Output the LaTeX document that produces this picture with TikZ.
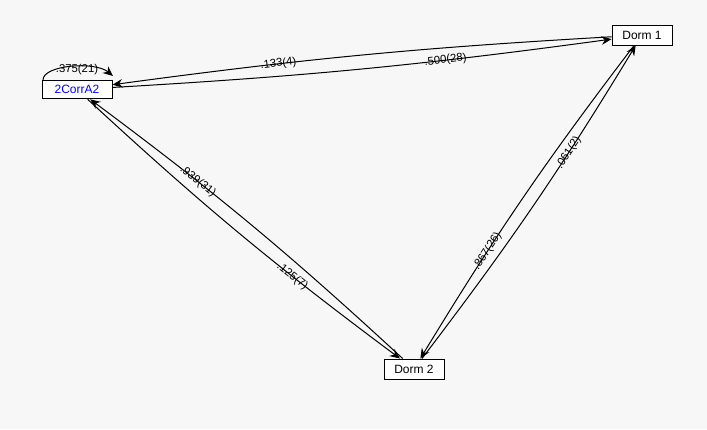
\documentclass[tikz,border=0pt]{standalone}
\usepackage{fontspec}
\setmainfont{Liberation Sans}
\usetikzlibrary{arrows.meta}
\definecolor{bgc}{RGB}{247,247,247}
\definecolor{nodeblue}{RGB}{0,0,255}
\tikzset{
  box/.style={draw=black, line width=0.75pt, fill=white, inner sep=0pt, font=\fontsize{9}{10}\selectfont},
  edge/.style={line width=0.75pt, -{Stealth[length=7.5pt, width=6.5pt, inset=2.5pt]}},
  lab/.style={font=\fontsize{8.5}{9}\selectfont, sloped, pos=0.68, inner sep=0pt},
}
\begin{document}
\begin{tikzpicture}[x=0.75pt, y=0.75pt]
\fill[bgc] (0,0) rectangle (707,-429);
\useasboundingbox (0,0) rectangle (707,-429);
\node[box, minimum width=52.5pt, minimum height=14pt, text=nodeblue] (a) at (77,-89.5) {2CorrA2};
\node[box, minimum width=45pt, minimum height=15pt] (d1) at (642,-35) {Dorm 1};
\node[box, minimum width=45pt, minimum height=15pt] (d2) at (414,-369) {Dorm 2};
% self loop
\coordinate (ls) at (43,-80);
\coordinate (le) at (113,-76);
\draw[edge] (ls) .. controls (43,-65) and (95,-61) .. (le);
\node[font=\fontsize{8.5}{9}\selectfont, inner sep=0pt] (ll) at (77,-70) {.375(21)};
% edges
\draw[edge] (a) to[bend right=2.2] node[lab] {.500(28)} (d1);
\draw[edge] (d1) to[bend right=2.2] node[lab] {.133(4)} (a);
\draw[edge] (a) to[bend right=3] node[lab] {.125(7)} (d2);
\draw[edge] (d2) to[bend right=3] node[lab] {.939(31)} (a);
\draw[edge] (d1) to[bend right=3] node[lab] {.867(26)} (d2);
\draw[edge] (d2) to[bend right=3] node[lab] {.061(2)} (d1);
\end{tikzpicture}
\end{document}
